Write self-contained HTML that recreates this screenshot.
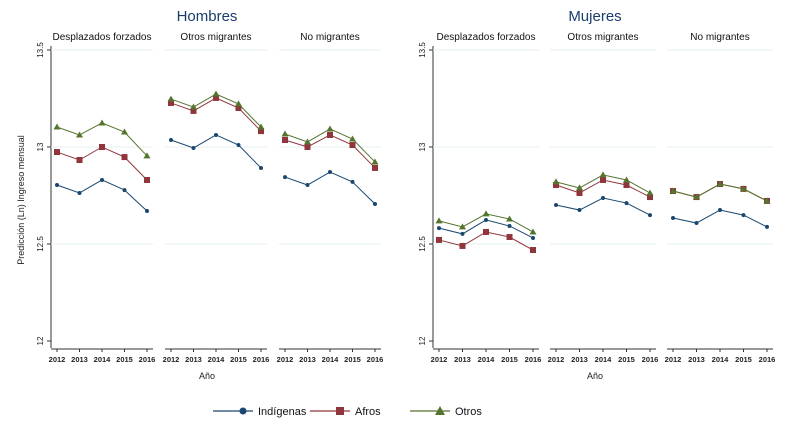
<!DOCTYPE html>
<html><head><meta charset="utf-8"><style>
body{margin:0;background:#fff;}
svg{display:block;font-family:"Liberation Sans",Arial,sans-serif;}
</style></head><body>
<svg id="chart" width="785" height="429" viewBox="0 0 785 429"></svg>
<script>
const years=[2012,2013,2014,2015,2016];
const yTicks=[12,12.5,13,13.5];
const yTickLabels=["12","12.5","13","13.5"];
const groups=["Hombres","Mujeres"];
const panelNames=["Desplazados forzados","Otros migrantes","No migrantes"];
const seriesNames=["Indígenas","Afros","Otros"];
// Hombres
const hDespInd=[12.804,12.763,12.830,12.778,12.670];
const hDespAfro=[12.974,12.933,13.0,12.948,12.830];
const hDespOtros=[13.103,13.062,13.124,13.077,12.954];
const hOtrInd=[13.036,12.995,13.062,13.010,12.892];
const hOtrAfro=[13.227,13.186,13.253,13.201,13.082];
const hOtrOtros=[13.247,13.206,13.273,13.222,13.103];
const hNoInd=[12.845,12.804,12.871,12.820,12.706];
const hNoAfro=[13.036,13.0,13.062,13.010,12.892];
const hNoOtros=[13.067,13.026,13.093,13.041,12.923];
// Mujeres
const mDespInd=[12.582,12.552,12.624,12.593,12.531];
const mDespAfro=[12.521,12.490,12.562,12.536,12.469];
const mDespOtros=[12.619,12.588,12.655,12.629,12.562];
const mOtrInd=[12.701,12.675,12.737,12.711,12.649];
const mOtrAfro=[12.804,12.763,12.830,12.804,12.742];
const mOtrOtros=[12.820,12.789,12.856,12.830,12.763];
const mNoInd=[12.634,12.608,12.675,12.649,12.588];
const mNoAfro=[12.773,12.742,12.809,12.784,12.722];
const mNoOtros=[12.773,12.742,12.809,12.784,12.722];

const data=[
 [[hDespInd,hDespAfro,hDespOtros],[hOtrInd,hOtrAfro,hOtrOtros],[hNoInd,hNoAfro,hNoOtros]],
 [[mDespInd,mDespAfro,mDespOtros],[mOtrInd,mOtrAfro,mOtrOtros],[mNoInd,mNoAfro,mNoOtros]]
];
const colors=["#1a476f","#90353b","#55752f"];
const NS="http://www.w3.org/2000/svg";
const svg=document.getElementById('chart');
function mk(t,a,p){const e=document.createElementNS(NS,t);for(const k in a)e.setAttribute(k,a[k]);(p||svg).appendChild(e);return e;}
const yScale=v=>147-(v-13)*194;
const groupAxisX=[51,433];
const panelStarts=[[51,165,279],[433,550,667]];
const panelW=[102,106];
const titleX=[207,595];

groups.forEach((g,gi)=>{
  const gg=mk('g',{});
  
  
  const t=mk('text',{x:titleX[gi],y:21,'text-anchor':'middle','font-size':15,fill:'#1a3d6b'},gg);t.textContent=g;
  
  
  const ax=groupAxisX[gi];
  mk('line',{x1:ax,y1:46,x2:ax,y2:348,stroke:'#333','stroke-width':1},gg);
  yTicks.forEach((v,i)=>{
    const y=yScale(v);
    mk('line',{x1:ax-4,y1:y,x2:ax,y2:y,stroke:'#333'},gg);
    const tl=mk('text',{x:ax-8,y:y,'font-size':8,fill:'#222','text-anchor':'middle',transform:`rotate(-90 ${ax-8} ${y})`},gg);
    tl.textContent=yTickLabels[i];
    
    
  });
  const at=mk('text',{x:titleX[gi],y:379,'text-anchor':'middle','font-size':9,fill:'#222'},gg);at.textContent='Año';
  
  
  panelNames.forEach((pn,pi)=>{
    const x0=panelStarts[gi][pi], w=panelW[gi];
    const pg=mk('g',{},gg);
    
    
    yTicks.forEach(v=>{ if(v>12) mk('line',{x1:x0,y1:yScale(v),x2:x0+w,y2:yScale(v),stroke:'#e6efef','stroke-width':1},pg);});
    const st=mk('text',{x:x0+w/2,y:40,'text-anchor':'middle','font-size':10,fill:'#111'},pg);st.textContent=pn;
    
    
    mk('line',{x1:x0,y1:349,x2:x0+w,y2:349,stroke:'#333'},pg);
    const xs=i=>x0+6+i*(w-12)/(years.length-1);
    years.forEach((yr,i)=>{
      mk('line',{x1:xs(i),y1:349,x2:xs(i),y2:352,stroke:'#333'},pg);
      const l=mk('text',{x:xs(i),y:362,'text-anchor':'middle','font-size':7.5,'font-weight':'bold',fill:'#222'},pg);l.textContent=yr;
      
      
    });
    data[gi][pi].forEach((vals,si)=>{
      const c=colors[si];
      const pts=vals.map((v,i)=>xs(i)+','+yScale(v)).join(' ');
      const pl=mk('polyline',{points:pts,fill:'none',stroke:c,'stroke-width':1},pg);
      
      
      vals.forEach((v,i)=>{
        const x=xs(i),y=yScale(v);let m;
        if(si===0) m=mk('circle',{cx:x,cy:y,r:2,fill:c},pg);
        else if(si===1) m=mk('rect',{x:x-3,y:y-3,width:6,height:6,fill:c},pg);
        else m=mk('polygon',{points:`${x},${y-3.5} ${x-3.5},${y+2.5} ${x+3.5},${y+2.5}`,fill:c},pg);
        
        
      });
    });
  });
});
const yt=mk('text',{x:24,y:200,'text-anchor':'middle','font-size':9,fill:'#222',transform:'rotate(-90 24 200)'});
yt.textContent='Predicción (Ln) Ingreso mensual';


const legX=[213,310,410];
seriesNames.forEach((n,si)=>{
  const lg=mk('g',{});
  
  
  const x0=legX[si],y=411,c=colors[si],mx=x0+30;
  mk('line',{x1:x0,y1:y,x2:x0+40,y2:y,stroke:c,'stroke-width':1.3},lg);
  if(si===0) mk('circle',{cx:mx,cy:y,r:3.5,fill:c},lg);
  else if(si===1) mk('rect',{x:mx-4,y:y-4,width:8,height:8,fill:c},lg);
  else mk('polygon',{points:`${mx},${y-5} ${mx-5},${y+4} ${mx+5},${y+4}`,fill:c},lg);
  const t=mk('text',{x:x0+45,y:y+4,'font-size':11,fill:'#111'},lg);t.textContent=n;
});
</script>
</body></html>
